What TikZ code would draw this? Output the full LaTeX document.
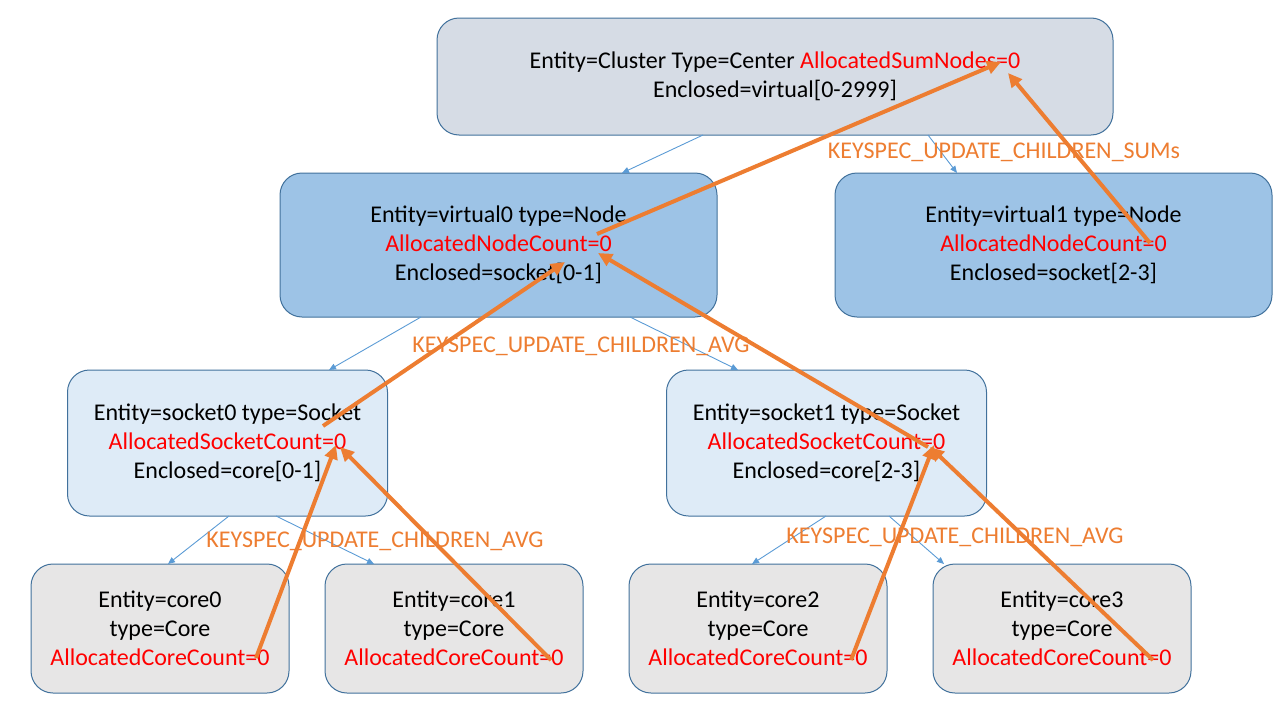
\documentclass[tikz,border=0pt]{standalone}
\usepackage{fontspec}
\setmainfont{Carlito}
\usetikzlibrary{arrows.meta}
\definecolor{boxline}{RGB}{65,113,156}
\definecolor{linkblue}{RGB}{91,155,213}
\definecolor{flow}{RGB}{237,125,49}
\definecolor{clusterfill}{RGB}{214,220,229}
\definecolor{nodefill}{RGB}{157,195,230}
\definecolor{socketfill}{RGB}{222,235,247}
\definecolor{corefill}{RGB}{231,230,230}

\begin{document}
\begin{tikzpicture}[x=1pt,y=-1pt,
  box/.style={draw=boxline,line width=1pt,rounded corners=22pt,outer sep=0pt,inner sep=0pt,align=center,font=\fontsize{24}{29}\selectfont},
  link/.style={draw=linkblue,line width=0.9pt,-{Triangle[length=7pt,width=6pt]}},
  push/.style={draw=flow,line width=4pt,-{Triangle[length=14pt,width=13pt]}},
  keyspec/.style={text=flow,font=\fontsize{24}{28}\selectfont}]
  \useasboundingbox (0,0) rectangle (1280,720);
  % the hierarchy, one row per level
  \node[box,fill=clusterfill,minimum width=676pt,minimum height=117pt] (cluster) at (775,76.5)
    {Entity=Cluster Type=Center \textcolor{red}{AllocatedSumNodes=0}\\Enclosed=virtual[0-2999]};
  \foreach \i/\x/\s in {0/498.5/0-1,1/1053.5/2-3}
    \node[box,fill=nodefill,minimum width=437pt,minimum height=144pt] (virtual\i) at (\x,245)
      {Entity=virtual\i\ type=Node\\\textcolor{red}{AllocatedNodeCount=0}\\Enclosed=socket[\s]};
  \foreach \i/\x/\s in {0/227.5/0-1,1/826.5/2-3}
    \node[box,fill=socketfill,minimum width=320pt,minimum height=146pt] (socket\i) at (\x,443)
      {Entity=socket\i\ type=Socket\\\textcolor{red}{AllocatedSocketCount=0}\\Enclosed=core[\s]};
  \foreach \i/\x in {0/160,1/454,2/758,3/1062}
    \node[box,fill=corefill,minimum width=258pt,minimum height=129pt] (core\i) at (\x,628.5)
      {Entity=core\i\\type=Core\\\textcolor{red}{AllocatedCoreCount=0}};
  % parent -> child links
  \foreach \a/\da/\b/\db in {cluster/-72/virtual0/123.5,cluster/153/virtual1/-96.5,
      virtual0/-77.5/socket0/101.5,virtual0/131.5/socket1/-88.5,
      socket0/1.5/core0/8,socket0/48.5/core1/-80,socket1/-0.5/core2/-6,socket1/62.5/core3/-118}
    \draw[link] ([xshift=\da pt]\a.south) -- ([xshift=\db pt]\b.north);
  % update rules
  \node[keyspec] (sumrule) at (1004,152) {KEYSPEC\_UPDATE\_CHILDREN\_SUMs};
  \node[keyspec] (avgrule) at (581,346) {KEYSPEC\_UPDATE\_CHILDREN\_AVG};
  \node[keyspec] (avgrule0) at (375,541) {KEYSPEC\_UPDATE\_CHILDREN\_AVG};
  \node[keyspec] (avgrule1) at (955,537) {KEYSPEC\_UPDATE\_CHILDREN\_AVG};
  % counts pushed up to the parent
  \foreach \a/\da/\b/\db in {core0/{96,29.5}/socket0/{108.5,2},core1/{97,31.5}/socket0/{112.5,4},
      core2/{93,31.5}/socket1/{107.5,2},core3/{91,31.5}/socket1/{103.5,4},
      socket0/{95.5,-17}/virtual0/{66.5,17},socket1/{101.5,4}/virtual0/{99.5,8},
      virtual0/{98.5,-11}/cluster/{226,-14.5},virtual1/{96.5,-2}/cluster/{233,-3.5}}
    \draw[push] ([shift={(\da)}]\a.center) -- ([shift={(\db)}]\b.center);
\end{tikzpicture}
\end{document}
